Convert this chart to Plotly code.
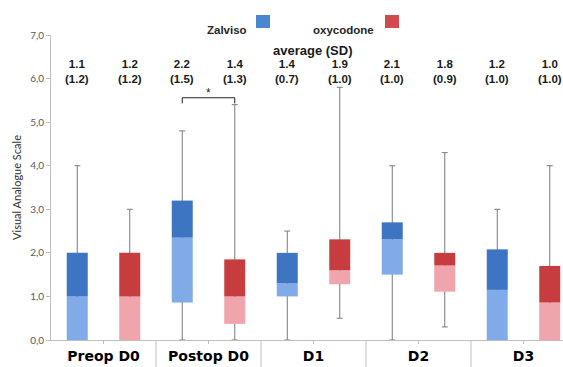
import plotly.graph_objects as go

categories = ["Preop D0", "Postop D0", "D1", "D2", "D3"]

# Zalviso box statistics
z_min = [0.0, 0.0, 0.0, 0.0, 0.0]
z_q1 = [0.0, 0.86, 1.0, 1.5, 0.0]
z_med = [1.0, 2.35, 1.3, 2.31, 1.15]
z_q3 = [2.0, 3.2, 2.0, 2.7, 2.08]
z_max = [4.0, 4.8, 2.5, 4.0, 3.0]
z_mean = ["1.1", "2.2", "1.4", "2.1", "1.2"]
z_sd = ["1.2", "1.5", "0.7", "1.0", "1.0"]

# Oxycodone box statistics
o_min = [0.0, 0.0, 0.5, 0.3, 0.0]
o_q1 = [0.0, 0.37, 1.28, 1.11, 0.0]
o_med = [1.0, 1.0, 1.6, 1.71, 0.86]
o_q3 = [2.0, 1.85, 2.31, 2.0, 1.7]
o_max = [3.0, 5.4, 5.8, 4.3, 4.0]
o_mean = ["1.2", "1.4", "1.9", "1.8", "1.0"]
o_sd = ["1.2", "1.3", "1.0", "0.9", "1.0"]

y_range = [0, 7]

Z_DARK, Z_LIGHT = "#3e75c3", "#80aae8"
O_DARK, O_LIGHT = "#c73c3f", "#efa5ab"
WHISK = "#7a7a7a"
GRID = "#bfbfbf"

fig = go.Figure()

def whisker(group, med, lo, hi):
    fig.add_trace(go.Bar(
        x=categories, y=med, offsetgroup=group,
        marker=dict(color="rgba(0,0,0,0)", line=dict(width=0)),
        error_y=dict(type="data", symmetric=False,
                     array=[h - m for h, m in zip(hi, med)],
                     arrayminus=[m - l for m, l in zip(med, lo)],
                     color=WHISK, thickness=1, width=3),
        showlegend=False, hoverinfo="skip"))

whisker("Z", z_med, z_min, z_max)
whisker("O", o_med, o_min, o_max)

def box(group, q1, med, q3, light, dark, name):
    fig.add_trace(go.Bar(
        x=categories, y=[m - a for m, a in zip(med, q1)], base=q1,
        offsetgroup=group, marker=dict(color=light, line=dict(width=0)),
        showlegend=False, name=name))
    fig.add_trace(go.Bar(
        x=categories, y=[b - m for b, m in zip(q3, med)], base=med,
        offsetgroup=group, marker=dict(color=dark, line=dict(width=0)),
        showlegend=False, name=name))

box("Z", z_q1, z_med, z_q3, Z_LIGHT, Z_DARK, "Zalviso")
box("O", o_q1, o_med, o_q3, O_LIGHT, O_DARK, "oxycodone")

annotations = []
shapes = []
for i, c in enumerate(categories):
    for off, m, s in ((-0.25, z_mean[i], z_sd[i]), (0.25, o_mean[i], o_sd[i])):
        annotations.append(dict(
            x=i + off, y=6.17, xref="x", yref="y", text=f"<b>{m}<br>({s})</b>",
            showarrow=False, font=dict(family="Liberation Sans", size=11.5, color="#1a1a1a"),
            align="center"))
    if i > 0:
        shapes.append(dict(type="line", xref="x", yref="paper", x0=i - 0.5, x1=i - 0.5,
                           y0=0, y1=-0.1, line=dict(color=GRID, width=1)))

# significance bracket for Postop D0
pi = categories.index("Postop D0")
shapes.append(dict(type="path", xref="x", yref="y",
                   path=f"M {pi-0.25},5.43 L {pi-0.25},5.56 L {pi+0.25},5.56 L {pi+0.25},5.43",
                   line=dict(color="#222222", width=1)))
annotations.append(dict(x=pi, y=5.68, xref="x", yref="y", text="*", showarrow=False,
                        font=dict(family="Liberation Sans", size=12, color="#222222")))

# legend made of text + squares
PL, PW, PT, PH = 51, 512, 35, 305
def px(x):
    return (x - PL) / PW
def py(y):
    return (PT + PH - y) / PH

annotations += [
    dict(x=px(249), y=py(21.5), xref="paper", yref="paper", text="<b>Zalviso</b>", showarrow=False,
         xanchor="right", font=dict(family="Liberation Sans", size=11.5, color="#262626")),
    dict(x=px(376), y=py(21.5), xref="paper", yref="paper", text="<b>oxycodone</b>", showarrow=False,
         xanchor="right", font=dict(family="Liberation Sans", size=11.5, color="#262626")),
    dict(x=px(312), y=py(41), xref="paper", yref="paper", text="<b>average (SD)</b>", showarrow=False,
         xanchor="center", font=dict(family="Liberation Sans", size=13, color="#1a1a1a")),
]
shapes += [
    dict(type="rect", xref="paper", yref="paper", x0=px(256), x1=px(270), y0=py(28), y1=py(15),
         fillcolor="#4a86d2", line=dict(width=0)),
    dict(type="rect", xref="paper", yref="paper", x0=px(385), x1=px(399), y0=py(28), y1=py(15),
         fillcolor="#d04a4e", line=dict(width=0)),
]

fig.update_layout(
    width=563, height=367,
    margin=dict(l=PL, r=0, t=PT, b=367 - PT - PH),
    paper_bgcolor="white", plot_bgcolor="white",
    barmode="group", bargap=0, bargroupgap=0.6,
    separators=",.",
    annotations=annotations, shapes=shapes,
    showlegend=False,
)
fig.update_xaxes(
    type="category", categoryorder="array", categoryarray=categories,
    range=[-0.5, -0.5 + PW / 105],
    showline=True, linecolor=GRID, linewidth=1,
    ticks="outside", ticklen=3, tickcolor=GRID,
    showgrid=False, zeroline=False,
    tickfont=dict(family="DejaVu Sans", size=14, color="#000000", weight="bold"),
)
fig.update_yaxes(
    range=y_range, dtick=1, tickformat=".1f",
    showline=True, linecolor=GRID, linewidth=1,
    ticks="outside", ticklen=4, tickcolor=GRID,
    showgrid=False, zeroline=False,
    tickfont=dict(family="Lato", size=10, color="#595959"),
    title=dict(text="Visual Analogue Scale", font=dict(family="Lato", size=11, color="#303030"),
               standoff=6),
)

fig.write_html("out.html")
